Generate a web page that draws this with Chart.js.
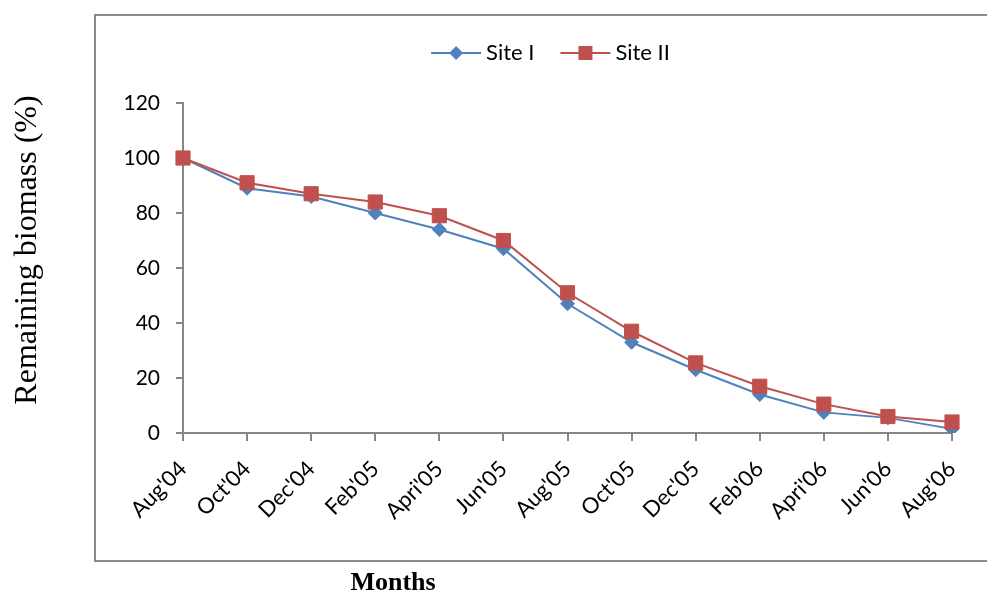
<!DOCTYPE html>
<html>
<head>
<meta charset="utf-8">
<script src="https://cdn.jsdelivr.net/npm/chart.js@4/dist/chart.umd.min.js"></script>
<style>
  html, body { margin: 0; padding: 0; background: #ffffff; }
  #wrap { width: 987px; height: 592px; }
</style>
</head>
<body>
<div id="wrap"><canvas id="c" width="987" height="592"></canvas></div>
<script>
// Remaining biomass (%) by sampling month, two sites
const months = ["Aug'04", "Oct'04", "Dec'04", "Feb'05", "Apri'05", "Jun'05", "Aug'05",
                "Oct'05", "Dec'05", "Feb'06", "Apri'06", "Jun'06", "Aug'06"];
const siteI  = [100, 89, 86, 80, 74, 67, 47, 33, 23, 14, 7.5, 5.5, 1.5];
const siteII = [100, 91, 87, 84, 79, 70, 51, 37, 25.5, 17, 10.5, 6, 4];
const seriesNames = ["Site I", "Site II"];
const yMin = 0, yMax = 120, yStep = 20;
const yTitle = "Remaining biomass (%)";
const xTitle = "Months";

const BLUE = '#4F81BD';
const RED = '#C0504D';
const AXIS = '#868686';

// Legend icon: short line with the series marker in the middle
function legendSwatch(color, shape) {
  const c = document.createElement('canvas');
  c.width = 60; c.height = 20;
  const g = c.getContext('2d');
  g.strokeStyle = color; g.lineWidth = 2;
  g.beginPath(); g.moveTo(9, 10); g.lineTo(59, 10); g.stroke();
  g.fillStyle = color;
  const cx = 34, cy = 10;
  if (shape === 'diamond') {
    g.beginPath();
    g.moveTo(cx, cy - 7); g.lineTo(cx + 7, cy); g.lineTo(cx, cy + 7); g.lineTo(cx - 7, cy);
    g.closePath(); g.fill();
  } else {
    g.fillRect(cx - 7, cy - 7, 14, 14);
  }
  return c;
}
const swatches = [legendSwatch(BLUE, 'diamond'), legendSwatch(RED, 'square')];

// Outer frame plus the axis captions
const framePlugin = {
  id: 'frame',
  beforeDraw(chart) {
    const ctx = chart.ctx;
    ctx.save();
    ctx.fillStyle = '#ffffff';
    ctx.fillRect(0, 0, chart.width, chart.height);
    ctx.strokeStyle = '#8a8a8a';
    ctx.lineWidth = 2;
    ctx.strokeRect(95, 15, chart.width, 546);
    ctx.restore();
  },
  afterDraw(chart) {
    const ctx = chart.ctx;
    ctx.save();
    ctx.fillStyle = '#000000';
    ctx.font = '32px "Liberation Serif"';
    ctx.textAlign = 'center';
    ctx.textBaseline = 'alphabetic';
    ctx.translate(36, 250);
    ctx.rotate(-Math.PI / 2);
    ctx.fillText(yTitle, 0, 0);
    ctx.restore();

    ctx.save();
    ctx.fillStyle = '#000000';
    ctx.font = 'bold 26px "Liberation Serif"';
    ctx.textAlign = 'center';
    ctx.textBaseline = 'alphabetic';
    ctx.fillText(xTitle, 393, 590);
    ctx.restore();
  }
};

// Lift the legend row up into the space above the plot
const legendShift = {
  id: 'legendShift',
  afterLayout(chart) {
    const lg = chart.legend;
    if (!lg) return;
    const dx = 26, dy = -29;
    lg.left += dx; lg.right += dx;
    lg.top += dy; lg.bottom += dy;
  }
};

new Chart(document.getElementById('c'), {
  type: 'line',
  data: {
    labels: months,
    datasets: [
      {
        label: seriesNames[0],
        data: siteI,
        borderColor: BLUE,
        backgroundColor: BLUE,
        borderWidth: 2,
        pointStyle: 'rectRot',
        pointRadius: 7,
        pointHoverRadius: 7,
        pointBackgroundColor: BLUE,
        pointBorderColor: BLUE,
        pointBorderWidth: 1,
        tension: 0,
        order: 1
      },
      {
        label: seriesNames[1],
        data: siteII,
        borderColor: RED,
        backgroundColor: RED,
        borderWidth: 2,
        pointStyle: 'rect',
        pointRadius: 10,
        pointHoverRadius: 10,
        pointBackgroundColor: RED,
        pointBorderColor: RED,
        pointBorderWidth: 1,
        tension: 0,
        order: 0
      }
    ]
  },
  options: {
    responsive: false,
    animation: false,
    layout: { padding: { left: 95, right: 35, top: 47, bottom: 0 } },
    plugins: {
      tooltip: { enabled: false },
      legend: {
        display: true,
        position: 'top',
        labels: {
          usePointStyle: true,
          pointStyleWidth: 46,
          padding: 24,
          color: '#000000',
          font: { family: 'Lato', size: 22 },
          generateLabels(chart) {
            return chart.data.datasets.map((ds, i) => ({
              text: ds.label,
              datasetIndex: i,
              hidden: false,
              pointStyle: swatches[i],
              fillStyle: ds.borderColor,
              strokeStyle: ds.borderColor,
              lineWidth: 0,
              fontColor: '#000000'
            }));
          }
        }
      }
    },
    scales: {
      x: {
        type: 'category',
        offset: false,
        afterFit(scale) { scale.height = 159; },
        border: { display: true, color: AXIS, width: 2 },
        grid: { display: true, drawOnChartArea: false, drawTicks: true, tickLength: 8, color: AXIS, lineWidth: 2 },
        ticks: {
          color: '#000000',
          font: { family: 'Lato', size: 22 },
          autoSkip: false,
          maxRotation: 45,
          minRotation: 45,
          padding: 15
        }
      },
      y: {
        min: yMin,
        max: yMax,
        afterFit(scale) { scale.width = 88; },
        border: { display: true, color: AXIS, width: 2 },
        grid: { display: true, drawOnChartArea: false, drawTicks: true, tickLength: 7, color: AXIS, lineWidth: 2 },
        ticks: {
          stepSize: yStep,
          color: '#000000',
          font: { family: 'Lato', size: 21 },
          padding: 16
        }
      }
    }
  },
  plugins: [framePlugin, legendShift]
});
</script>
</body>
</html>
